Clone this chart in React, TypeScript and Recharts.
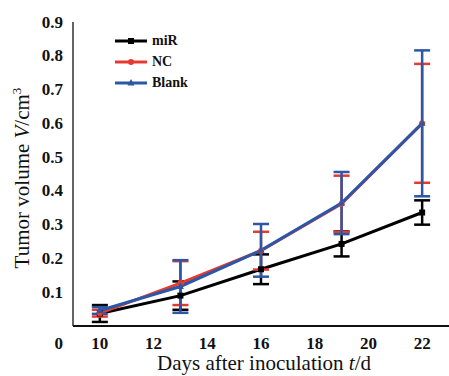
import React from "react";
import { LineChart, Line, XAxis, YAxis, ErrorBar } from "recharts";

const days = [10, 13, 16, 19, 22];
const miR = [0.037, 0.09, 0.168, 0.243, 0.336];
const miRErr = [0.025, 0.042, 0.044, 0.037, 0.036];
const nc = [0.038, 0.127, 0.223, 0.362, 0.6];
const ncErr = [0.01, 0.065, 0.056, 0.083, 0.176];
const blank = [0.046, 0.117, 0.224, 0.364, 0.6];
const blankErr = [0.01, 0.078, 0.078, 0.092, 0.216];

const xTicks = [10, 12, 14, 16, 18, 20, 22];
const yTicks = [0, 0.1, 0.2, 0.3, 0.4, 0.5, 0.6, 0.7, 0.8, 0.9];

const seriesNames = ["miR", "NC", "Blank"];
const seriesColors = ["#000000", "#e63a30", "#2c57a6"];
const seriesShapes = ["square", "circle", "triangle"];

const data = days.map((d, i) => ({
  day: d,
  miR: miR[i],
  miRErr: miRErr[i],
  NC: nc[i],
  NCErr: ncErr[i],
  Blank: blank[i],
  BlankErr: blankErr[i],
}));

const FONT = "'Liberation Serif', 'Times New Roman', serif";

const Marker = ({ shape, cx, cy, color, size = 6 }: any) => {
  if (cx == null || cy == null) return null;
  const h = size / 2;
  if (shape === "square")
    return <rect x={cx - h} y={cy - h} width={size} height={size} fill={color} />;
  if (shape === "circle") return <circle cx={cx} cy={cy} r={h} fill={color} />;
  return (
    <polygon
      points={`${cx},${cy - h - 1} ${cx - h - 0.5},${cy + h - 0.5} ${cx + h + 0.5},${cy + h - 0.5}`}
      fill={color}
    />
  );
};

const YTick = (props: any) => {
  const { x, y, payload } = props;
  const v = payload.value;
  return (
    <text
      x={x}
      y={v === 0 ? y + 17 : y}
      textAnchor="end"
      dominantBaseline="central"
      fontFamily={FONT}
      fontSize={17}
      fontWeight="bold"
      fill="#111"
    >
      {v === 0 ? "0" : v.toFixed(1)}
    </text>
  );
};

const XTick = (props: any) => {
  const { x, y, payload } = props;
  return (
    <text
      x={x}
      y={y}
      textAnchor="middle"
      dominantBaseline="central"
      fontFamily={FONT}
      fontSize={17}
      fontWeight="bold"
      fill="#111"
    >
      {payload.value}
    </text>
  );
};

const XLabel = (props: any) => {
  const { viewBox } = props;
  const cx = viewBox.x + viewBox.width / 2;
  return (
    <text
      x={cx + 3}
      y={370}
      textAnchor="middle"
      fontFamily={FONT}
      fontSize={21}
      fill="#111"
    >
      Days after inoculation <tspan fontStyle="italic">t</tspan>/d
    </text>
  );
};

const YLabel = (props: any) => {
  const { viewBox } = props;
  const cy = viewBox.y + viewBox.height / 2 + 4;
  const cx = 29;
  return (
    <text
      x={cx}
      y={cy}
      transform={`rotate(-90, ${cx}, ${cy})`}
      textAnchor="middle"
      fontFamily={FONT}
      fontSize={21}
      fill="#111"
    >
      Tumor volume <tspan fontStyle="italic">V</tspan>/cm
      <tspan fontSize={13} dy={-8}>
        3
      </tspan>
    </text>
  );
};

export default function App() {
  return (
    <div
      style={{
        position: "absolute",
        left: 0,
        top: 0,
        width: 449,
        height: 376,
        background: "#fff",
      }}
    >
      <LineChart
        width={449}
        height={376}
        data={data}
        margin={{ top: 22, right: 0, bottom: 0, left: 0 }}
      >
        <XAxis
          dataKey="day"
          type="number"
          domain={[9, 23]}
          ticks={xTicks}
          allowDataOverflow
          height={50}
          tickSize={0}
          tickMargin={17}
          tickLine={false}
          axisLine={{ stroke: "#111", strokeWidth: 2 }}
          tick={<XTick />}
          label={{ content: <XLabel /> } as any}
        />
        <YAxis
          type="number"
          domain={[0, 0.9]}
          ticks={yTicks}
          width={73}
          tickSize={0}
          tickMargin={10}
          tickLine={false}
          axisLine={{ stroke: "#111", strokeWidth: 1.3 }}
          tick={<YTick />}
          label={{ content: <YLabel /> } as any}
        />
        {seriesNames.map((name, i) => (
          <Line
            key={name}
            dataKey={name}
            stroke={seriesColors[i]}
            strokeWidth={3}
            isAnimationActive={false}
            dot={(p: any) => (
              <Marker
                key={`${name}-${p.index}`}
                shape={seriesShapes[i]}
                cx={p.cx}
                cy={p.cy}
                color={seriesColors[i]}
              />
            )}
            activeDot={false}
          >
            <ErrorBar
              dataKey={`${name}Err`}
              direction="y"
              width={8}
              stroke={seriesColors[i]}
              strokeWidth={2.5}
              isAnimationActive={false}
            />
          </Line>
        ))}
      </LineChart>
      <div
        style={{
          position: "absolute",
          left: 115,
          top: 30,
          fontFamily: FONT,
          fontWeight: "bold",
          fontSize: 14,
          color: "#111",
        }}
      >
        {seriesNames.map((name, i) => (
          <div
            key={name}
            style={{ display: "flex", alignItems: "center", height: 21 }}
          >
            <svg width={34} height={12} style={{ display: "block" }}>
              <line
                x1={0}
                y1={6}
                x2={32}
                y2={6}
                stroke={seriesColors[i]}
                strokeWidth={3}
              />
              <Marker shape={seriesShapes[i]} cx={16} cy={6} color={seriesColors[i]} size={6} />
            </svg>
            <span style={{ marginLeft: 3 }}>{name}</span>
          </div>
        ))}
      </div>
    </div>
  );
}
